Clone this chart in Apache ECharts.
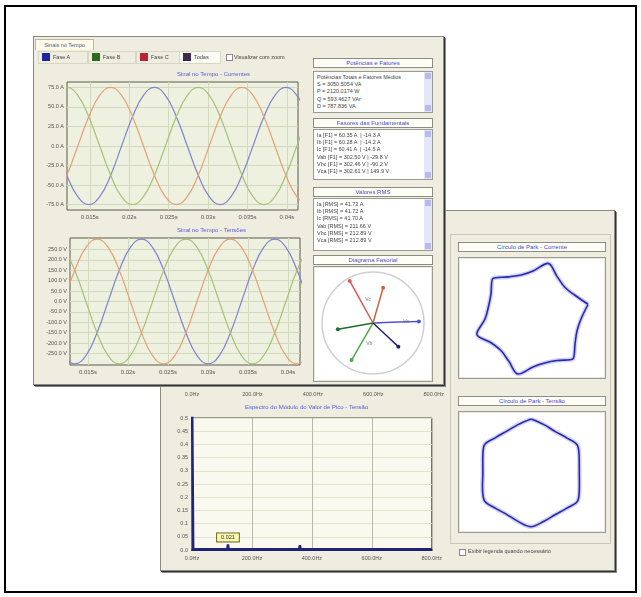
<!DOCTYPE html>
<html>
<head>
<meta charset="utf-8">
<script src="https://cdn.jsdelivr.net/npm/echarts@6/dist/echarts.min.js"></script>
<style>
body { margin: 0; background: #fff; font-family: "Liberation Sans", Arial, sans-serif; }
#page { position: relative; width: 641px; height: 597px; overflow: hidden; }
#frame { position: absolute; left: 4px; top: 5px; width: 629px; height: 584px; border: 2px solid #000; }
.win { position: absolute; background: #eeeddf; border: 1px solid #8a8a80; box-shadow: 1px 1px 0 #333, 2px 2px 0 #888; }
.ch { position: absolute; }
.hdr { position: absolute; background: #fdfdf3; border: 1px solid #8c8c80; box-shadow: inset 0 0 0 1px #fff; font-size: 6px; color: #4a4ad0; text-align: center; line-height: 8px; white-space: nowrap; overflow: hidden; }
.list { position: absolute; background: #fff; border: 1px solid #9a9a90; font-size: 5.5px; line-height: 7.2px; color: #444; padding: 2px 0 0 3px; white-space: nowrap; overflow: hidden; box-sizing: border-box; }
.sb { position: absolute; right: 0; top: 0; bottom: 0; width: 8px; background: #e6e6fb; }
.sb .up, .sb .dn { position: absolute; left: 1px; width: 6px; height: 6px; background: #b9b9ec; }
.sb .up { top: 1px; } .sb .dn { bottom: 1px; }
.box { position: absolute; background: #fff; border: 1px solid #9a9a90; box-shadow: inset 0 0 0 1px #e8e8e0; }
.leg { position: absolute; top: 51px; height: 11px; border: 1px solid #d8d6c4; font-size: 5.5px; line-height: 11px; color: #444; }
.leg i { position: absolute; left: 3px; top: 1px; width: 8px; height: 8px; }
.leg span { position: absolute; left: 14px; }
.txt { position: absolute; font-size: 5.5px; color: #444; white-space: nowrap; }
.chk { position: absolute; width: 5px; height: 5px; border: 1px solid #888; background: #fff; }
</style>
</head>
<body>
<div id="page">
  <div id="frame"></div>

  <!-- janela de tras: espectro e circulos de Park -->
  <div class="win" style="left:160px;top:210px;width:453px;height:359px;"></div>
  <div class="ch" id="espectroTopo" style="left:162px;top:300px;width:285px;height:100px;"></div>
  <div class="ch" id="espectro" style="left:162px;top:398px;width:283px;height:170px;"></div>
  <div style="position:absolute;left:450px;top:234px;width:159px;height:308px;border:1px solid #c8c6b6;"></div>
  <div class="hdr" style="left:458px;top:242px;width:146px;height:8px;">Círculo de Park - Corrente</div>
  <div class="box" style="left:458px;top:257px;width:146px;height:120px;"><div class="ch" id="parkCorr" style="left:1px;top:1px;width:144px;height:118px;"></div></div>
  <div class="hdr" style="left:458px;top:396px;width:146px;height:8px;">Círculo de Park - Tensão</div>
  <div class="box" style="left:458px;top:411px;width:146px;height:120px;"><div class="ch" id="parkTens" style="left:1px;top:1px;width:144px;height:118px;"></div></div>
  <div class="chk" style="left:459px;top:549px;"></div>
  <div class="txt" style="left:468px;top:548px;">Exibir legenda quando necessário</div>

  <!-- janela da frente: sinais no tempo -->
  <div class="win" style="left:33px;top:36px;width:409px;height:347px;"></div>
  <div style="position:absolute;left:35px;top:39px;width:57px;height:10px;background:#fdfbe8;border:1px solid #b8b6a6;border-bottom:none;font-size:5.5px;line-height:10px;color:#55559a;text-align:center;">Sinais no Tempo</div>
  <div class="leg" style="left:38px;width:48px;"><i style="background:#23239a;"></i><span>Fase A</span></div>
  <div class="leg" style="left:88px;width:46px;"><i style="background:#2c6a22;"></i><span>Fase B</span></div>
  <div class="leg" style="left:136px;width:42px;"><i style="background:#b8243a;"></i><span>Fase C</span></div>
  <div class="leg" style="left:179px;width:40px;background:#fbfbf5;"><i style="background:#3c2c4c;"></i><span>Todas</span></div>
  <div class="chk" style="left:226px;top:54px;"></div>
  <div class="txt" style="left:234px;top:54px;">Visualizar com zoom</div>
  <div class="ch" id="correntes" style="left:35px;top:66px;width:270px;height:160px;"></div>
  <div class="ch" id="tensoes" style="left:35px;top:224px;width:270px;height:158px;"></div>

  <div class="hdr" style="left:313px;top:58px;width:118px;height:8px;">Potências e Fatores</div>
  <div class="list" style="left:313px;top:71px;width:120px;height:42px;">
    Potências Totais e Fatores Médios<br>S = 3050.5054 VA<br>P = 2120.0174 W<br>Q = 593.4627 VAr<br>D = 787.836 VA
    <div class="sb"><div class="up"></div><div class="dn"></div></div>
  </div>
  <div class="hdr" style="left:313px;top:118px;width:118px;height:8px;">Fasores das Fundamentais</div>
  <div class="list" style="left:313px;top:129px;width:120px;height:51px;">
    Ia [F1] = 60.35 A &nbsp;| -14.3 A<br>Ib [F1] = 60.28 A &nbsp;| -14.2 A<br>Ic [F1] = 60.41 A &nbsp;| -14.5 A<br>Vab [F1] = 302.50 V | -29.8 V<br>Vbc [F1] = 302.46 V | -90.2 V<br>Vca [F1] = 302.61 V | 149.9 V
    <div class="sb"><div class="up"></div><div class="dn"></div></div>
  </div>
  <div class="hdr" style="left:313px;top:187px;width:118px;height:8px;">Valores RMS</div>
  <div class="list" style="left:313px;top:198px;width:120px;height:53px;">
    Ia [RMS] = 41.72 A<br>Ib [RMS] = 41.72 A<br>Ic [RMS] = 41.70 A<br>Vab [RMS] = 211.66 V<br>Vbc [RMS] = 212.89 V<br>Vca [RMS] = 212.89 V
    <div class="sb"><div class="up"></div><div class="dn"></div></div>
  </div>
  <div class="hdr" style="left:313px;top:255px;width:118px;height:8px;">Diagrama Fasorial</div>
  <div class="box" style="left:313px;top:266px;width:118px;height:114px;"><div class="ch" id="fasorial" style="left:1px;top:1px;width:116px;height:112px;"></div></div>
</div>

<script>
var fonte = "Liberation Sans";
var corA = "#8282d0";
var corB = "#a6c276";
var corC = "#e6a078";

// sinal no tempo - correntes (s, A), uma amostra a cada 1/12 de ciclo
var tCorr = [0.01069, 0.01208, 0.01347, 0.01486, 0.01625, 0.01764, 0.01902, 0.02041, 0.02180, 0.02319, 0.02458, 0.02597,
  0.02736, 0.02875, 0.03014, 0.03152, 0.03291, 0.03430, 0.03569, 0.03708, 0.03847, 0.03986, 0.04125, 0.04264];
var iA = [0, -37.5, -65, -75, -65, -37.5, 0, 37.5, 65, 75, 65, 37.5, 0, -37.5, -65, -75, -65, -37.5, 0, 37.5, 65, 75, 65, 37.5];
var iB = [65, 75, 65, 37.5, 0, -37.5, -65, -75, -65, -37.5, 0, 37.5, 65, 75, 65, 37.5, 0, -37.5, -65, -75, -65, -37.5, 0, 37.5];
var iC = [-65, -37.5, 0, 37.5, 65, 75, 65, 37.5, 0, -37.5, -65, -75, -65, -37.5, 0, 37.5, 65, 75, 65, 37.5, 0, -37.5, -65, -75];

// sinal no tempo - tensoes (s, V)
var tTens = [0.01196, 0.01335, 0.01474, 0.01613, 0.01752, 0.01891, 0.02030, 0.02169, 0.02307, 0.02446, 0.02585, 0.02724,
  0.02863, 0.03002, 0.03141, 0.03280, 0.03419, 0.03557, 0.03696, 0.03835, 0.03974, 0.04113, 0.04252];
var vA = [-260, -300, -260, -150, 0, 150, 260, 300, 260, 150, 0, -150, -260, -300, -260, -150, 0, 150, 260, 300, 260, 150, 0];
var vB = [260, 150, 0, -150, -260, -300, -260, -150, 0, 150, 260, 300, 260, 150, 0, -150, -260, -300, -260, -150, 0, 150, 260];
var vC = [0, 150, 260, 300, 260, 150, 0, -150, -260, -300, -260, -150, 0, 150, 260, 300, 260, 150, 0, -150, -260, -300, -260];

var ticksTempo = [0.015, 0.02, 0.025, 0.03, 0.035, 0.04];
var ticksCorr = [-75, -50, -25, 0, 25, 50, 75];
var ticksTens = [-250, -200, -150, -100, -50, 0, 50, 100, 150, 200, 250];

// espectro do modulo do valor de pico - tensao
var espFreq = [0, 4, 8, 118, 120, 122, 358, 360, 362, 800];
var espValor = [0.62, 0.004, 0.003, 0.003, 0.021, 0.003, 0.003, 0.018, 0.003, 0.003];

// diagrama fasorial
var fasorNome = ["Va", "Vb", "Vc", "Ia", "Ib", "Ic"];
var fasorMod = [45, 42, 47, 34, 35, 36];
var fasorAng = [2, 240, 119, 317, 190, 74];
var fasorCor = ["#5050d8", "#4caa4c", "#d85a5a", "#22226e", "#1e6e2e", "#d0603a"];

// circulos de Park (modulo, angulo em graus)
var parkCorrAng = [15, 30, 45, 60, 75, 90, 105, 120, 135, 150, 165, 180, 195, 210, 225, 240, 255, 270, 285, 300, 315, 330, 345, 0, 15];
var parkCorrMod = [95, 80, 75, 81, 96, 80, 76, 81, 95, 81, 77, 80, 97, 80, 75, 81, 95, 80, 76, 80, 94, 81, 76, 80, 95];
var parkTensAng = [90, 105, 120, 135, 150, 165, 180, 195, 210, 225, 240, 255, 270, 285, 300, 315, 330, 345, 0, 15, 30, 45, 60, 75, 90];
var parkTensMod = [360, 334, 322, 334, 362, 333, 321, 335, 361, 333, 320, 334, 358, 333, 321, 334, 362, 334, 322, 333, 360, 333, 320, 334, 360];

function pares(xs, ys) {
  return xs.map(function (x, i) { return [x, ys[i]]; });
}

function graficoTempo(id, titulo, tempos, fases, grid, xMin, xMax, yMin, yMax, yTicks, unidade) {
  var chart = echarts.init(document.getElementById(id));
  var cores = [corA, corB, corC];
  chart.setOption({
    animation: false,
    graphic: [{
      type: "text", left: 182 - 40, top: grid.top - 11,
      style: { text: titulo, fill: "#5a5ad6", font: "6px " + fonte, width: 80, align: "center" }
    }],
    grid: {
      left: grid.left, top: grid.top, width: grid.width, height: grid.height,
      show: true, backgroundColor: "#eef1df", borderColor: "#5a5a4a", borderWidth: 1
    },
    xAxis: {
      type: "value", min: xMin, max: xMax,
      axisLine: { show: false },
      axisTick: { show: false, customValues: ticksTempo },
      axisLabel: {
        customValues: ticksTempo, fontSize: 6, color: "#555", fontFamily: fonte, margin: 4,
        formatter: function (v) { return +v.toFixed(3) + "s"; }
      },
      splitLine: { show: true, lineStyle: { color: "#d2d9be" } }
    },
    yAxis: {
      type: "value", min: yMin, max: yMax,
      axisLine: { show: false },
      axisTick: { show: false, customValues: yTicks },
      axisLabel: {
        customValues: yTicks, fontSize: 5.5, color: "#555", fontFamily: fonte, margin: 3,
        formatter: function (v) { return v.toFixed(1) + " " + unidade; }
      },
      splitLine: { show: true, lineStyle: { color: "#d2d9be" } }
    },
    series: fases.map(function (f, i) {
      return {
        type: "line", smooth: 0.45, showSymbol: false,
        lineStyle: { color: cores[i], width: 1.2 },
        data: pares(tempos, f)
      };
    })
  });
}

graficoTempo("correntes", "Sinal no Tempo - Correntes", tCorr, [iA, iB, iC],
  { left: 32, top: 16, width: 231, height: 128 }, 0.0121, 0.0414, -82, 82, ticksCorr, "A");
graficoTempo("tensoes", "Sinal no Tempo - Tensões", tTens, [vA, vB, vC],
  { left: 35, top: 14, width: 230, height: 127 }, 0.01275, 0.0415, -305, 305, ticksTens, "V");

function eixoFreq(mostrar) {
  return {
    type: "value", min: 0, max: 800, interval: 200,
    axisLine: { show: mostrar, lineStyle: { color: "#1e1e66", width: 2 } },
    axisTick: { show: false },
    axisLabel: {
      fontSize: 5.5, color: "#555", fontFamily: fonte, margin: 5,
      formatter: function (v) { return v.toFixed(1) + "Hz"; }
    },
    splitLine: { show: mostrar, lineStyle: { color: "#b9b9aa" } }
  };
}

var espTopo = echarts.init(document.getElementById("espectroTopo"));
espTopo.setOption({
  animation: false,
  grid: { left: 30, top: 10, width: 248, height: 76 },
  xAxis: eixoFreq(false),
  yAxis: { type: "value", show: false }
});

var esp = echarts.init(document.getElementById("espectro"));
esp.setOption({
  animation: false,
  graphic: [{
    type: "text", left: 143 - 60, top: 6,
    style: { text: "Espectro do Módulo do Valor de Pico - Tensão", fill: "#5a5ad6", font: "6px " + fonte, width: 120, align: "center" }
  }],
  grid: {
    left: 30, top: 20, width: 248, height: 132,
    show: true, backgroundColor: "#f9f9ef", borderColor: "#444", borderWidth: 1
  },
  xAxis: eixoFreq(true),
  yAxis: {
    type: "value", min: 0, max: 0.5, interval: 0.05,
    axisLine: { show: true, lineStyle: { color: "#6a6af0", width: 1.5 } },
    axisTick: { show: false },
    axisLabel: {
      fontSize: 5.5, color: "#555", fontFamily: fonte, margin: 4,
      formatter: function (v) { return v === 0 ? "0.0" : String(+v.toFixed(2)); }
    },
    splitLine: { show: true, lineStyle: { color: "#e3e3c9" } }
  },
  series: [{
    type: "line", showSymbol: true, symbol: "circle", symbolSize: 0, clip: true,
    lineStyle: { color: "#23237a", width: 2.5 },
    data: espFreq.map(function (f, i) {
      var item = { value: [f, espValor[i]] };
      if (f === 120) {
        item.label = {
          show: true, position: "top", distance: 3,
          formatter: function (p) { return p.value[1].toFixed(3); },
          fontSize: 5.5, color: "#333", fontFamily: fonte,
          backgroundColor: "#fbf8b0", borderColor: "#6a6a20", borderWidth: 1, padding: [1, 4]
        };
      }
      return item;
    })
  }]
});

var fas = echarts.init(document.getElementById("fasorial"));
fas.setOption({
  animation: false,
  polar: { center: [58, 55], radius: 51 },
  angleAxis: {
    type: "value", min: 0, max: 360, startAngle: 0, clockwise: false,
    axisLine: { show: true, lineStyle: { color: "#cfcfcf", width: 1.5 } },
    axisTick: { show: false }, axisLabel: { show: false }, splitLine: { show: false }
  },
  radiusAxis: {
    type: "value", min: 0, max: 50,
    axisLine: { show: false }, axisTick: { show: false }, axisLabel: { show: false }, splitLine: { show: false }
  },
  series: fasorNome.map(function (nome, i) {
    return {
      type: "line", coordinateSystem: "polar", symbol: "circle", symbolSize: 4,
      lineStyle: { color: fasorCor[i], width: 1.5 },
      itemStyle: { color: fasorCor[i] },
      data: [
        { value: [0, fasorAng[i]], symbolSize: 0 },
        {
          value: [fasorMod[i] * 0.55, fasorAng[i]], symbolSize: 0,
          label: { show: i < 3, formatter: nome, fontSize: 5, color: "#777", fontFamily: fonte, position: "right" }
        },
        { value: [fasorMod[i], fasorAng[i]] }
      ]
    };
  })
});

function park(id, mods, angs, raioMax, centro) {
  var chart = echarts.init(document.getElementById(id));
  var pontos = pares(mods, angs);
  var eixoOculto = { axisLine: { show: false }, axisTick: { show: false }, axisLabel: { show: false }, splitLine: { show: false } };
  chart.setOption({
    animation: false,
    polar: { center: centro, radius: 60 },
    angleAxis: Object.assign({ type: "value", min: 0, max: 360, startAngle: 0, clockwise: false }, eixoOculto),
    radiusAxis: Object.assign({ type: "value", min: 0, max: raioMax }, eixoOculto),
    series: [{
      type: "line", coordinateSystem: "polar", smooth: 0.35, showSymbol: false,
      lineStyle: { color: "rgba(120,120,235,0.35)", width: 4.5 },
      data: pontos
    }, {
      type: "line", coordinateSystem: "polar", smooth: 0.35, showSymbol: false,
      lineStyle: { color: "#2a2aa8", width: 1.6 },
      data: pontos
    }]
  });
}

park("parkCorr", parkCorrMod, parkCorrAng, 100, [73, 60]);
park("parkTens", parkTensMod, parkTensAng, 400, [71, 60]);
</script>
</body>
</html>
